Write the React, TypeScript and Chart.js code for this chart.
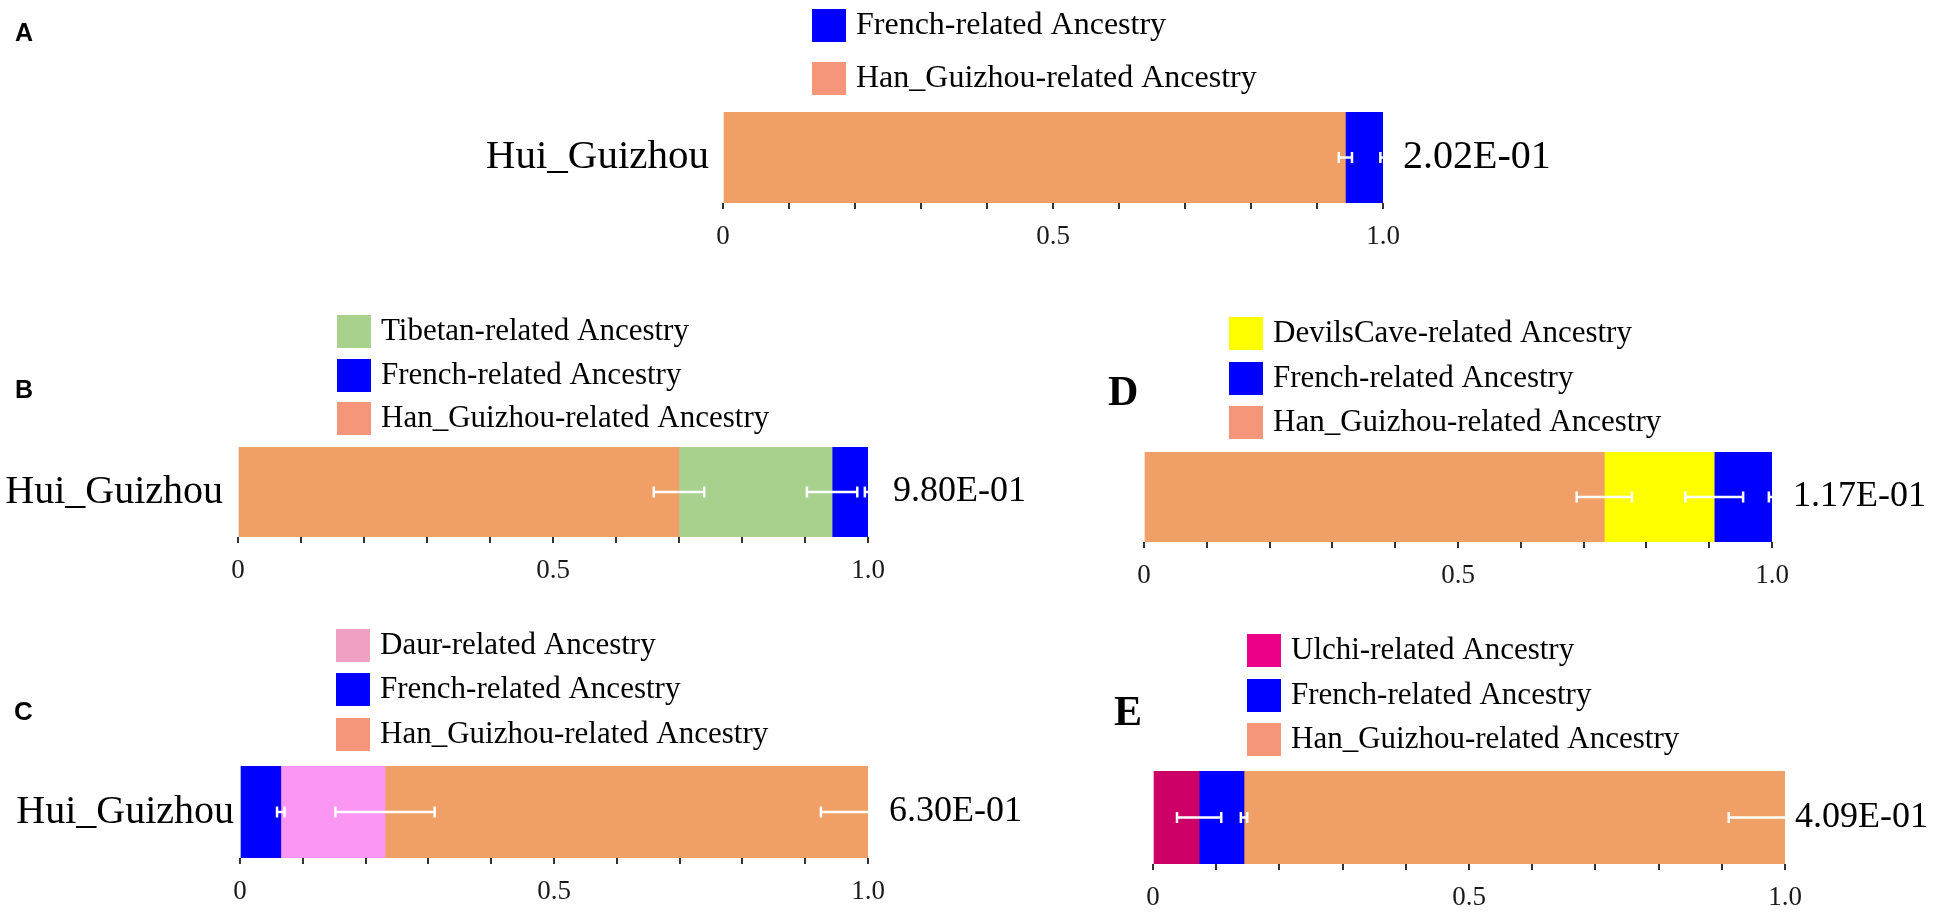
import React, { useEffect, useRef } from 'react';
import { Chart, registerables } from 'chart.js';

Chart.register(...registerables);

// ---------------- DATA ----------------
const categories = ['Hui_Guizhou'];
const xTickValues = [0, 0.5, 1];
const xTickLabels = ['0', '0.5', '1.0'];

const panelANames = ['Han_Guizhou-related Ancestry', 'French-related Ancestry'];
const panelAValues = [0.943, 0.057];
const panelAErrors = [0.01, 0.004];
const panelAPValue = '2.02E-01';

const panelBNames = ['Han_Guizhou-related Ancestry', 'Tibetan-related Ancestry', 'French-related Ancestry'];
const panelBValues = [0.7, 0.243, 0.057];
const panelBErrors = [0.04, 0.04, 0.005];
const panelBPValue = '9.80E-01';

const panelCNames = ['French-related Ancestry', 'Daur-related Ancestry', 'Han_Guizhou-related Ancestry'];
const panelCValues = [0.065, 0.166, 0.769];
const panelCErrors = [0.006, 0.079, 0.075];
const panelCPValue = '6.30E-01';

const panelDNames = ['Han_Guizhou-related Ancestry', 'DevilsCave-related Ancestry', 'French-related Ancestry'];
const panelDValues = [0.733, 0.175, 0.092];
const panelDErrors = [0.044, 0.046, 0.005];
const panelDPValue = '1.17E-01';

const panelENames = ['Ulchi-related Ancestry', 'French-related Ancestry', 'Han_Guizhou-related Ancestry'];
const panelEValues = [0.073, 0.071, 0.856];
const panelEErrors = [0.035, 0.005, 0.089];
const panelEPValue = '4.09E-01';

// ---------------- STYLE ----------------
const W = 1950;
const H = 912;
const AXIS_H = 48;
const SERIF = "'Liberation Serif', 'Times New Roman', serif";
const SANS = "'Liberation Sans', Arial, sans-serif";

const HAN_BAR = '#F0A066';
const HAN_LEG = '#F5967A';
const FRENCH = '#0000FF';
const TIBET = '#A9D18E';
const DEVILS = '#FFFF00';
const DAUR_BAR = '#FB96F5';
const DAUR_LEG = '#F0A0C2';
const ULCHI_BAR = '#CC0066';
const ULCHI_LEG = '#EC0088';

type Spec = {
  letter: string;
  letterFont: string;
  letterX: number;
  letterY: number;
  names: string[];
  values: number[];
  errors: number[];
  pValue: string;
  barColors: string[];
  legendColors: string[];
  legendOrder: number[];
  left: number;
  right: number;
  top: number;
  bottom: number;
  legendX: number;
  legendRows: number[];
  legendFont: number;
  catGap: number | null;
  catFont: number;
  pGap: number;
  pFont: number;
};

const specs: Spec[] = [
  {
    letter: 'A', letterFont: `bold 25px ${SANS}`, letterX: 15, letterY: 34,
    names: panelANames, values: panelAValues, errors: panelAErrors, pValue: panelAPValue,
    barColors: [HAN_BAR, FRENCH], legendColors: [HAN_LEG, FRENCH], legendOrder: [1, 0],
    left: 723, right: 1383, top: 112, bottom: 203,
    legendX: 812, legendRows: [9, 62], legendFont: 32, catGap: 14, catFont: 41, pGap: 20, pFont: 40,
  },
  {
    letter: 'B', letterFont: `bold 25px ${SANS}`, letterX: 15, letterY: 391,
    names: panelBNames, values: panelBValues, errors: panelBErrors, pValue: panelBPValue,
    barColors: [HAN_BAR, TIBET, FRENCH], legendColors: [HAN_LEG, TIBET, FRENCH], legendOrder: [1, 2, 0],
    left: 238, right: 868, top: 447, bottom: 537,
    legendX: 337, legendRows: [315, 359, 402], legendFont: 31, catGap: 15, catFont: 40, pGap: 25, pFont: 36,
  },
  {
    letter: 'C', letterFont: `bold 26px ${SANS}`, letterX: 14, letterY: 713,
    names: panelCNames, values: panelCValues, errors: panelCErrors, pValue: panelCPValue,
    barColors: [FRENCH, DAUR_BAR, HAN_BAR], legendColors: [FRENCH, DAUR_LEG, HAN_LEG], legendOrder: [1, 0, 2],
    left: 240, right: 868, top: 766, bottom: 858,
    legendX: 336, legendRows: [629, 673, 718], legendFont: 31, catGap: 6, catFont: 40, pGap: 21, pFont: 36,
  },
  {
    letter: 'D', letterFont: `bold 42px ${SERIF}`, letterX: 1108, letterY: 394,
    names: panelDNames, values: panelDValues, errors: panelDErrors, pValue: panelDPValue,
    barColors: [HAN_BAR, DEVILS, FRENCH], legendColors: [HAN_LEG, DEVILS, FRENCH], legendOrder: [1, 2, 0],
    left: 1144, right: 1772, top: 452, bottom: 542,
    legendX: 1229, legendRows: [317, 362, 406], legendFont: 31, catGap: null, catFont: 40, pGap: 21, pFont: 36,
  },
  {
    letter: 'E', letterFont: `bold 42px ${SERIF}`, letterX: 1114, letterY: 714,
    names: panelENames, values: panelEValues, errors: panelEErrors, pValue: panelEPValue,
    barColors: [ULCHI_BAR, FRENCH, HAN_BAR], legendColors: [ULCHI_LEG, FRENCH, HAN_LEG], legendOrder: [0, 1, 2],
    left: 1153, right: 1785, top: 771, bottom: 864,
    legendX: 1247, legendRows: [634, 679, 723], legendFont: 31, catGap: null, catFont: 40, pGap: 10, pFont: 36,
  },
];

function makeDecor(spec: Spec) {
  return {
    id: 'panelDecor' + spec.letter,
    afterDatasetsDraw(chart: any) {
      const ctx = chart.ctx as CanvasRenderingContext2D;
      const xs = chart.scales.x;
      const ys = chart.scales.y;
      const yc = ys.getPixelForValue(0);
      let cum = 0;
      ctx.save();
      ctx.strokeStyle = '#FFFFFF';
      ctx.lineWidth = 2.5;
      chart.data.datasets.forEach((ds: any, i: number) => {
        cum += ds.data[0];
        const e = spec.errors[i];
        const x1 = xs.getPixelForValue(cum - e);
        const x2 = xs.getPixelForValue(cum + e);
        ctx.beginPath();
        ctx.moveTo(x1, yc);
        ctx.lineTo(x2, yc);
        ctx.moveTo(x1, yc - 5.5);
        ctx.lineTo(x1, yc + 5.5);
        ctx.moveTo(x2, yc - 5.5);
        ctx.lineTo(x2, yc + 5.5);
        ctx.stroke();
      });
      ctx.restore();
    },
    afterDraw(chart: any) {
      const ctx = chart.ctx as CanvasRenderingContext2D;
      const area = chart.chartArea;
      const yc = (area.top + area.bottom) / 2;
      ctx.save();
      ctx.fillStyle = '#000';
      // panel letter
      ctx.font = spec.letterFont;
      ctx.textAlign = 'left';
      ctx.textBaseline = 'middle';
      ctx.fillText(spec.letter, spec.letterX, spec.letterY);
      // category label
      if (spec.catGap !== null) {
        ctx.font = `${spec.catFont}px ${SERIF}`;
        ctx.textAlign = 'right';
        ctx.fillText(chart.data.labels[0], area.left - spec.catGap, yc);
      }
      // p-value
      ctx.font = `${spec.pFont}px ${SERIF}`;
      ctx.textAlign = 'left';
      ctx.fillText(spec.pValue, area.right + spec.pGap, yc);
      // legend
      ctx.font = `${spec.legendFont}px ${SERIF}`;
      spec.legendOrder.forEach((di, row) => {
        const top = spec.legendRows[row];
        ctx.fillStyle = spec.legendColors[di];
        ctx.fillRect(spec.legendX, top, 34, 33);
        ctx.fillStyle = '#000';
        ctx.textAlign = 'left';
        ctx.fillText(chart.data.datasets[di].label, spec.legendX + 44, top + 17);
      });
      ctx.restore();
    },
  };
}

function Panel({ spec }: { spec: Spec }) {
  const ref = useRef<HTMLCanvasElement>(null);
  useEffect(() => {
    if (!ref.current) return;
    const chart = new Chart(ref.current, {
      type: 'bar',
      data: {
        labels: categories,
        datasets: spec.values.map((v, i) => ({
          label: spec.names[i],
          data: [v],
          backgroundColor: spec.barColors[i],
          borderWidth: 0,
          barPercentage: 1,
          categoryPercentage: 1,
        })),
      },
      options: {
        indexAxis: 'y',
        responsive: false,
        animation: false,
        devicePixelRatio: 1,
        layout: {
          padding: {
            left: spec.left,
            right: W - spec.right,
            top: spec.top,
            bottom: H - spec.bottom - AXIS_H,
          },
        },
        scales: {
          x: {
            stacked: true,
            min: 0,
            max: 1,
            afterFit: (s: any) => {
              s.height = AXIS_H;
            },
            border: { display: false },
            grid: {
              drawOnChartArea: false,
              drawTicks: true,
              tickLength: 6,
              color: '#333',
              tickColor: '#333',
              lineWidth: 2,
            },
            ticks: {
              stepSize: 0.1,
              autoSkip: false,
              maxRotation: 0,
              padding: 12,
              color: '#1a1a1a',
              font: { family: SERIF, size: 27 },
              callback: (v: any) => {
                const idx = xTickValues.findIndex((t) => Math.abs(t - Number(v)) < 1e-9);
                return idx >= 0 ? xTickLabels[idx] : '';
              },
            },
          },
          y: { stacked: true, display: false },
        },
        plugins: {
          legend: { display: false },
          tooltip: { enabled: false },
        },
      },
      plugins: [makeDecor(spec)],
    } as any);
    return () => chart.destroy();
  }, [spec]);
  return (
    <canvas
      ref={ref}
      width={W}
      height={H}
      style={{ position: 'absolute', left: 0, top: 0, width: W, height: H }}
    />
  );
}

export default function App() {
  return (
    <div
      style={{
        position: 'fixed',
        left: 0,
        top: 0,
        width: W,
        height: H,
        background: '#FFFFFF',
        overflow: 'hidden',
      }}
    >
      {specs.map((s) => (
        <Panel key={s.letter} spec={s} />
      ))}
    </div>
  );
}
